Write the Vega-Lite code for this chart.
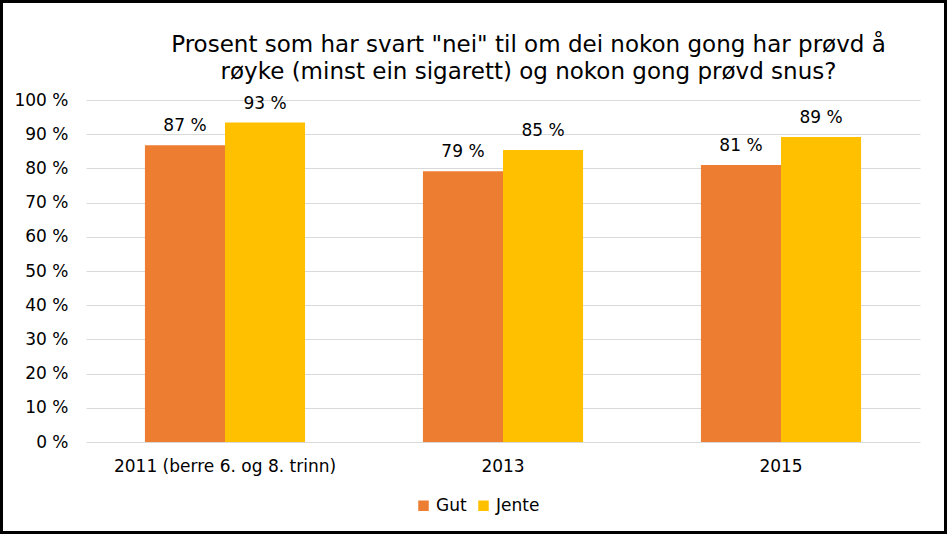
{
  "$schema": "https://vega.github.io/schema/vega-lite/v6.json",
  "width": 947,
  "height": 534,
  "autosize": {"type": "none"},
  "padding": 0,
  "background": "white",
  "title": {
    "text": ["Prosent som har svart \"nei\" til om dei nokon gong har prøvd å", "røyke (minst ein sigarett) og nokon gong prøvd snus?"],
    "font": "DejaVu Sans",
    "fontSize": 23,
    "fontWeight": "normal",
    "color": "#000000",
    "lineHeight": 27,
    "anchor": "middle",
    "frame": "group",
    "dx": 55,
    "offset": -84
  },
  "data": {
    "values": [
      {"year": "2011 (berre 6. og 8. trinn)", "kjonn": "Gut", "value": 86.8},
      {"year": "2011 (berre 6. og 8. trinn)", "kjonn": "Jente", "value": 93.4},
      {"year": "2013", "kjonn": "Gut", "value": 79.2},
      {"year": "2013", "kjonn": "Jente", "value": 85.4},
      {"year": "2015", "kjonn": "Gut", "value": 81.0},
      {"year": "2015", "kjonn": "Jente", "value": 89.2}
    ]
  },
  "transform": [{"calculate": "format(datum.value, '.0f') + ' %'", "as": "label"}],
  "encoding": {
    "x": {
      "field": "year", "type": "nominal", "sort": null, "title": null,
      "scale": {"range": [86, 920], "paddingInner": 0.424, "paddingOuter": 0.212},
      "axis": {"offset": -92, "labelAngle": 0, "domain": false, "ticks": false, "labelLimit": 0, "labelFont": "DejaVu Sans", "labelFontSize": 17, "labelColor": "#000000", "labelPadding": 16}
    },
    "xOffset": {"field": "kjonn", "type": "nominal", "sort": ["Gut", "Jente"]},
    "y": {
      "field": "value", "type": "quantitative", "title": null,
      "scale": {"domain": [0, 100], "range": [442, 100]},
      "axis": {"offset": -86, "values": [0,10,20,30,40,50,60,70,80,90,100], "labelOverlap": false, "labelExpr": "datum.value + ' %'", "domain": false, "ticks": false, "gridColor": "#d9d9d9", "gridWidth": 1, "labelFont": "DejaVu Sans", "labelFontSize": 17, "labelColor": "#000000", "labelPadding": 18}
    }
  },
  "layer": [
    {
      "mark": {"type": "bar"},
      "encoding": {
        "color": {
          "field": "kjonn", "type": "nominal", "title": null,
          "scale": {"domain": ["Gut", "Jente"], "range": ["#ED7D31", "#FFC000"]},
          "legend": {"orient": "none", "legendX": 415, "legendY": 497, "direction": "horizontal", "symbolType": "square", "symbolSize": 110, "labelFont": "DejaVu Sans", "labelFontSize": 17, "labelColor": "#000000", "columnPadding": 8, "symbolOffset": 0, "labelOffset": 4}
        }
      }
    },
    {
      "mark": {"type": "text", "dy": -19, "font": "DejaVu Sans", "fontSize": 17, "color": "#000000"},
      "encoding": {"text": {"field": "label"}}
    }
  ],
  "config": {"view": {"stroke": "#000000", "strokeWidth": 6}}
}
